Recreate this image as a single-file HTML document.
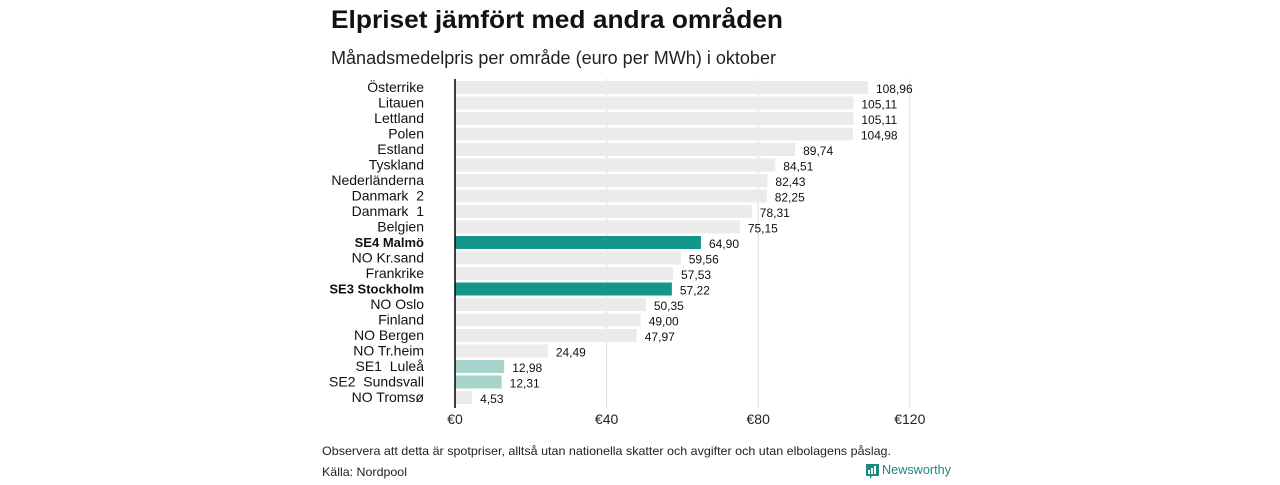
<!DOCTYPE html>
<html><head><meta charset="utf-8"><style>
body{margin:0;background:#fff;width:1280px;height:480px;overflow:hidden;font-family:"Liberation Sans",sans-serif;}
</style></head><body>
<svg width="1280" height="480" xmlns="http://www.w3.org/2000/svg" font-family="Liberation Sans, sans-serif">
<text x="331" y="28" font-size="25" font-weight="bold" fill="#111" textLength="452" lengthAdjust="spacingAndGlyphs">Elpriset jämfört med andra områden</text>
<text x="331" y="64" font-size="18" fill="#222" textLength="445" lengthAdjust="spacingAndGlyphs">Månadsmedelpris per område (euro per MWh) i oktober</text>
<g id="grid"></g><g id="bars"></g><g id="labels"></g>
<text x="322" y="455" font-size="12" fill="#222" textLength="569" lengthAdjust="spacingAndGlyphs">Observera att detta är spotpriser, alltså utan nationella skatter och avgifter och utan elbolagens påslag.</text>
<text x="322" y="476" font-size="12" fill="#222" textLength="85" lengthAdjust="spacingAndGlyphs">Källa: Nordpool</text>
<g>
<path d="M866 464h13v12h-7l-2 3v-3h-4z" fill="#1a8a7e"/>
<rect x="868" y="470" width="2" height="4" fill="#fff"/><rect x="871" y="468" width="2" height="6" fill="#fff"/><rect x="874" y="466" width="2" height="8" fill="#fff"/>
<text x="882" y="474" font-size="13" fill="#1a8a7e" textLength="69" lengthAdjust="spacingAndGlyphs">Newsworthy</text></g>
</svg>
<script>
const categories=["Österrike","Litauen","Lettland","Polen","Estland","Tyskland","Nederländerna","Danmark  2","Danmark  1","Belgien","SE4 Malmö","NO Kr.sand","Frankrike","SE3 Stockholm","NO Oslo","Finland","NO Bergen","NO Tr.heim","SE1  Luleå","SE2  Sundsvall","NO Tromsø"];
const values=[108.96,105.11,105.11,104.98,89.74,84.51,82.43,82.25,78.31,75.15,64.90,59.56,57.53,57.22,50.35,49.00,47.97,24.49,12.98,12.31,4.53];
const highlight=["SE4 Malmö","SE3 Stockholm"];
const lightHighlight=["SE1  Luleå","SE2  Sundsvall"];
const ticks=[0,40,80,120];
const NS="http://www.w3.org/2000/svg";
const x=v=>455+v*3.79;
const y=i=>81+i*15.5;
function mk(t,a,p){const e=document.createElementNS(NS,t);for(const k in a)e.setAttribute(k,a[k]);p.appendChild(e);return e;}
const g=document.getElementById('grid'),b=document.getElementById('bars'),l=document.getElementById('labels');
ticks.forEach(t=>{
 if(t>0){const ln=mk('line',{x1:x(t),x2:x(t),y1:79,y2:408,stroke:'#ddd','stroke-width':1},g);
 
 }
 const tx=mk('text',{x:x(t),y:424,'font-size':14,fill:'#222','text-anchor':'middle'},g);
 tx.textContent='€'+t;
 
 
});
categories.forEach((c,i)=>{
 const v=values[i];
 const bold=highlight.includes(c);
 const col=bold?'#14968a':lightHighlight.includes(c)?'#a6d3ca':'#ebebeb';
 const r=mk('rect',{x:455,y:y(i),width:x(v)-455,height:13,fill:col},b);
 
 
 const lb=mk('text',{x:424,y:y(i)+11,'font-size':bold?13:14,fill:'#111','text-anchor':'end','font-weight':bold?'bold':'normal'},l);
 lb.textContent=c;lb.style.whiteSpace='pre';
 
 
 const vl=mk('text',{x:x(v)+8,y:y(i)+12,'font-size':12,fill:'#111'},l);
 vl.textContent=v.toFixed(2).replace('.',',');
 
 
});
const ax=mk('line',{x1:455,x2:455,y1:79,y2:408,stroke:'#000','stroke-width':1.5},l);


</script>
</body></html>
